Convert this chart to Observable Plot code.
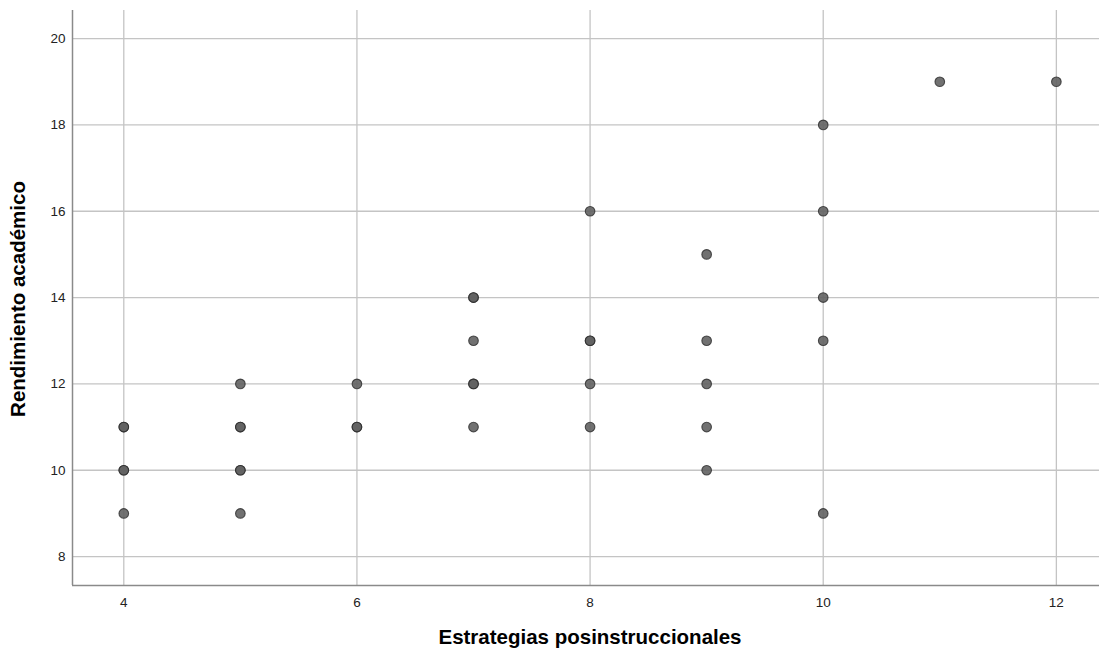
<!DOCTYPE html>
<html><head><meta charset="utf-8">
<script src="https://cdn.jsdelivr.net/npm/d3@7"></script>
<script src="https://cdn.jsdelivr.net/npm/@observablehq/plot@0.6"></script>
<style>body{margin:0;background:#fff;font-family:Arial,"Liberation Sans",sans-serif}</style>
</head><body><div id="chart"></div>
<script>
// Estrategias posinstruccionales (x) vs Rendimiento académico (y); repeated pairs overlap
const estrategias = [4,4,4,4,4, 5,5,5,5,5,5, 6,6,6, 7,7,7,7,7,7, 8,8,8,8,8, 9,9,9,9,9, 10,10,10,10,10, 11, 12];
const rendimiento = [11,11,10,10,9, 12,11,11,10,10,9, 12,11,11, 14,14,13,12,12,11, 16,13,13,12,11, 15,13,12,11,10, 18,16,14,13,9, 19, 19];
const xTicks = [4,6,8,10,12];
const yTicks = [8,10,12,14,16,18,20];
const xDomain = [3.56, 12.37];
const yDomain = [7.33, 20.65];

const data = estrategias.map((x,i)=>({x, y: rendimiento[i]}));

const chart = Plot.plot({
  width: 1099, height: 655,
  marginLeft: 72, marginRight: 0, marginTop: 10, marginBottom: 70,
  style: {fontFamily: "Arial, 'Liberation Sans', sans-serif", fontSize: "13.5px", color: "#222"},
  x: {domain: xDomain, ticks: xTicks, tickSize: 0, tickPadding: 12, label: null},
  y: {domain: yDomain, ticks: yTicks, tickSize: 0, tickPadding: 7, label: null},
  marks: [
    Plot.gridX(xTicks, {stroke: "#c4c4c4", strokeOpacity: 1, strokeWidth: 1.3}),
    Plot.gridY(yTicks, {stroke: "#c4c4c4", strokeOpacity: 1, strokeWidth: 1.3}),
    Plot.ruleX([xDomain[0]], {stroke: "#8a8a8a", strokeWidth: 1.5}),
    Plot.ruleY([yDomain[0]], {stroke: "#8a8a8a", strokeWidth: 1.5}),
    Plot.dot(data, {x: "x", y: "y", r: 4.8, fill: "#626262", fillOpacity: 0.9, stroke: "#2a2a2a", strokeOpacity: 0.8, strokeWidth: 1.1})
  ]
});

const svg = d3.select(chart);
svg.append("text")
  .attr("transform", "translate(20,299) rotate(-90)")
  .attr("text-anchor", "middle").attr("dominant-baseline", "middle")
  .attr("font-size", 20.5).attr("font-weight", "bold").attr("fill", "#000")
  .text("Rendimiento académico");
svg.append("text")
  .attr("x", 590).attr("y", 639)
  .attr("text-anchor", "middle").attr("dominant-baseline", "middle")
  .attr("font-size", 20.5).attr("font-weight", "bold").attr("fill", "#000")
  .text("Estrategias posinstruccionales");
document.getElementById("chart").appendChild(chart);
</script></body></html>
